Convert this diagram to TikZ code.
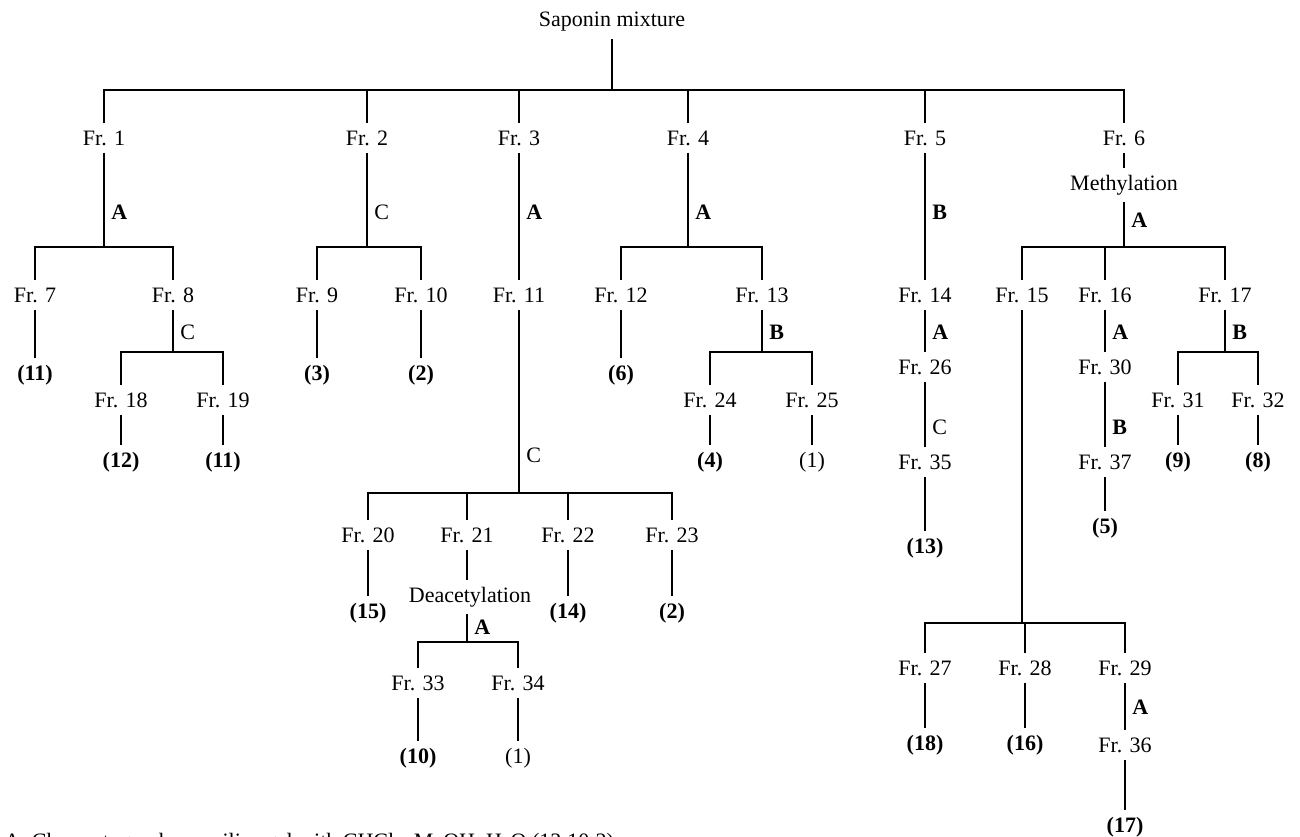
\documentclass[tikz,border=0pt]{standalone}
\usepackage{fontspec}
\setmainfont{Liberation Serif}
\begin{document}
\begin{tikzpicture}[x=0.5pt,y=-0.5pt,
  every node/.style={font=\fontsize{11}{13}\selectfont},
  fr/.style={inner xsep=1pt, inner ysep=3.5pt},
  res/.style={fr, font=\fontsize{11}{13}\selectfont\bfseries},
  resn/.style={fr},
  sol/.style={inner sep=1.5pt, anchor=west, font=\fontsize{11}{13}\selectfont\bfseries},
  soln/.style={inner sep=1.5pt, anchor=west},
  link/.style={line width=1.45pt, line join=miter},
]
\useasboundingbox (0,0) rectangle (1300,836);

% ---------- root and first split ----------
\node[fr] (sap) at (612,22) {Saponin mixture};
\coordinate (b0) at (612,90);
\node[fr] (f1) at (104,138) {Fr. 1};
\node[fr] (f2) at (367,138) {Fr. 2};
\node[fr] (f3) at (519,138) {Fr. 3};
\node[fr] (f4) at (688,138) {Fr. 4};
\node[fr] (f5) at (925,138) {Fr. 5};
\node[fr] (f6) at (1124,138) {Fr. 6};
\draw[link] (sap.south) -- (b0);
\draw[link] (f1.north) |- (b0) -| (f6.north);
\foreach \n in {f2,f3,f4,f5} \draw[link] (\n.north) -- (\n.north |- b0);

% ---------- Fr. 1 ----------
\coordinate (b1) at (104,247);
\node[sol] (l1) at (108,212) {A};
\node[fr] (f7) at (35,295) {Fr. 7};
\node[fr] (f8) at (173,295) {Fr. 8};
\draw[link] (f1.south) -- (b1);
\draw[link] (f7.north) |- (b1) -| (f8.north);
\node[res] (r7) at (35,375) {(11)};
\draw[link] (f7.south) -- (r7.north);
\node[soln] (l8) at (177,332) {C};
\coordinate (b8) at (173,352);
\node[fr] (f18) at (121,400) {Fr. 18};
\node[fr] (f19) at (223,400) {Fr. 19};
\draw[link] (f8.south) -- (b8);
\draw[link] (f18.north) |- (b8) -| (f19.north);
\node[res] (r18) at (121,462) {(12)};
\node[res] (r19) at (223,462) {(11)};
\draw[link] (f18.south) -- (r18.north);
\draw[link] (f19.south) -- (r19.north);

% ---------- Fr. 2 ----------
\node[soln] (l2) at (371,212) {C};
\coordinate (b2) at (367,247);
\node[fr] (f9) at (317,295) {Fr. 9};
\node[fr] (f10) at (421,295) {Fr. 10};
\draw[link] (f2.south) -- (b2);
\draw[link] (f9.north) |- (b2) -| (f10.north);
\node[res] (r9) at (317,375) {(3)};
\node[res] (r10) at (421,375) {(2)};
\draw[link] (f9.south) -- (r9.north);
\draw[link] (f10.south) -- (r10.north);

% ---------- Fr. 3 ----------
\node[sol] (l3) at (523,212) {A};
\node[fr] (f11) at (519,295) {Fr. 11};
\draw[link] (f3.south) -- (f11.north);
\node[soln] (l11) at (523,455) {C};
\coordinate (b11) at (519,493);
\draw[link] (f11.south) -- (b11);
\node[fr] (f20) at (368,535) {Fr. 20};
\node[fr] (f21) at (467,535) {Fr. 21};
\node[fr] (f22) at (568,535) {Fr. 22};
\node[fr] (f23) at (672,535) {Fr. 23};
\draw[link] (f20.north) |- (b11) -| (f23.north);
\draw[link] (f21.north) -- (f21.north |- b11);
\draw[link] (f22.north) -- (f22.north |- b11);
\node[res] (r20) at (368,613) {(15)};
\node[res] (r22) at (568,613) {(14)};
\node[res] (r23) at (672,613) {(2)};
\draw[link] (f20.south) -- (r20.north);
\draw[link] (f22.south) -- (r22.north);
\draw[link] (f23.south) -- (r23.north);
\node[fr] (dea) at (470,597) {Deacetylation};
\draw[link] (f21.south) -- (f21.south |- dea.north);
\coordinate (b21) at (467,642);
\draw[link] (b21 |- dea.south) -- (b21);
\node[sol] (l21) at (471,627) {A};
\node[fr] (f33) at (418,683) {Fr. 33};
\node[fr] (f34) at (518,683) {Fr. 34};
\draw[link] (f33.north) |- (b21) -| (f34.north);
\node[res] (r33) at (418,758) {(10)};
\node[resn] (r34) at (518,758) {(1)};
\draw[link] (f33.south) -- (r33.north);
\draw[link] (f34.south) -- (r34.north);

% ---------- Fr. 4 ----------
\node[sol] (l4) at (692,212) {A};
\coordinate (b4) at (688,247);
\node[fr] (f12) at (621,295) {Fr. 12};
\node[fr] (f13) at (762,295) {Fr. 13};
\draw[link] (f4.south) -- (b4);
\draw[link] (f12.north) |- (b4) -| (f13.north);
\node[res] (r12) at (621,375) {(6)};
\draw[link] (f12.south) -- (r12.north);
\node[sol] (l13) at (766,332) {B};
\coordinate (b13) at (762,352);
\node[fr] (f24) at (710,400) {Fr. 24};
\node[fr] (f25) at (812,400) {Fr. 25};
\draw[link] (f13.south) -- (b13);
\draw[link] (f24.north) |- (b13) -| (f25.north);
\node[res] (r24) at (710,462) {(4)};
\node[resn] (r25) at (812,462) {(1)};
\draw[link] (f24.south) -- (r24.north);
\draw[link] (f25.south) -- (r25.north);

% ---------- Fr. 5 ----------
\node[sol] (l5) at (929,212) {B};
\node[fr] (f14) at (925,295) {Fr. 14};
\draw[link] (f5.south) -- (f14.north);
\node[sol] (l14) at (929,332) {A};
\node[fr] (f26) at (925,367) {Fr. 26};
\draw[link] (f14.south) -- (f26.north);
\node[soln] (l26) at (929,427) {C};
\node[fr] (f35) at (925,462) {Fr. 35};
\draw[link] (f26.south) -- (f35.north);
\node[res] (r35) at (925,548) {(13)};
\draw[link] (f35.south) -- (r35.north);

% ---------- Fr. 6 ----------
\node[fr] (met) at (1124,185) {Methylation};
\draw[link] (f6.south) -- (met.north);
\coordinate (b6) at (1124,247);
\draw[link] (met.south) -- (b6);
\node[sol] (l6) at (1128,220) {A};
\node[fr] (f15) at (1022,295) {Fr. 15};
\node[fr] (f16) at (1105,295) {Fr. 16};
\node[fr] (f17) at (1225,295) {Fr. 17};
\draw[link] (f15.north) |- (b6) -| (f17.north);
\draw[link] (f16.north) -- (f16.north |- b6);

% Fr. 15
\coordinate (b15) at (1022,623);
\draw[link] (f15.south) -- (b15);
\node[fr] (f27) at (925,668) {Fr. 27};
\node[fr] (f28) at (1025,668) {Fr. 28};
\node[fr] (f29) at (1125,668) {Fr. 29};
\draw[link] (f27.north) |- (b15) -| (f29.north);
\draw[link] (f28.north) -- (f28.north |- b15);
\node[res] (r27) at (925,745) {(18)};
\node[res] (r28) at (1025,745) {(16)};
\draw[link] (f27.south) -- (r27.north);
\draw[link] (f28.south) -- (r28.north);
\node[sol] (l29) at (1129,707) {A};
\node[fr] (f36) at (1125,745) {Fr. 36};
\draw[link] (f29.south) -- (f36.north);
\node[res] (r36) at (1125,827) {(17)};
\draw[link] (f36.south) -- (r36.north);

% Fr. 16
\node[sol] (l16) at (1109,332) {A};
\node[fr] (f30) at (1105,367) {Fr. 30};
\draw[link] (f16.south) -- (f30.north);
\node[sol] (l30) at (1109,427) {B};
\node[fr] (f37) at (1105,462) {Fr. 37};
\draw[link] (f30.south) -- (f37.north);
\node[res] (r37) at (1105,528) {(5)};
\draw[link] (f37.south) -- (r37.north);

% Fr. 17
\node[sol] (l17) at (1229,332) {B};
\coordinate (b17) at (1225,352);
\node[fr] (f31) at (1178,400) {Fr. 31};
\node[fr] (f32) at (1258,400) {Fr. 32};
\draw[link] (f17.south) -- (b17);
\draw[link] (f31.north) |- (b17) -| (f32.north);
\node[res] (r31) at (1178,462) {(9)};
\node[res] (r32) at (1258,462) {(8)};
\draw[link] (f31.south) -- (r31.north);
\draw[link] (f32.south) -- (r32.north);

% ---------- footnote (runs past the lower edge of the page) ----------
\node[inner sep=0pt, anchor=base west] (note) at (4,848)
  {A: Chromatography on silica gel with CHCl\textsubscript{3}--MeOH--H\textsubscript{2}O (13:10:2)};
\end{tikzpicture}
\end{document}
